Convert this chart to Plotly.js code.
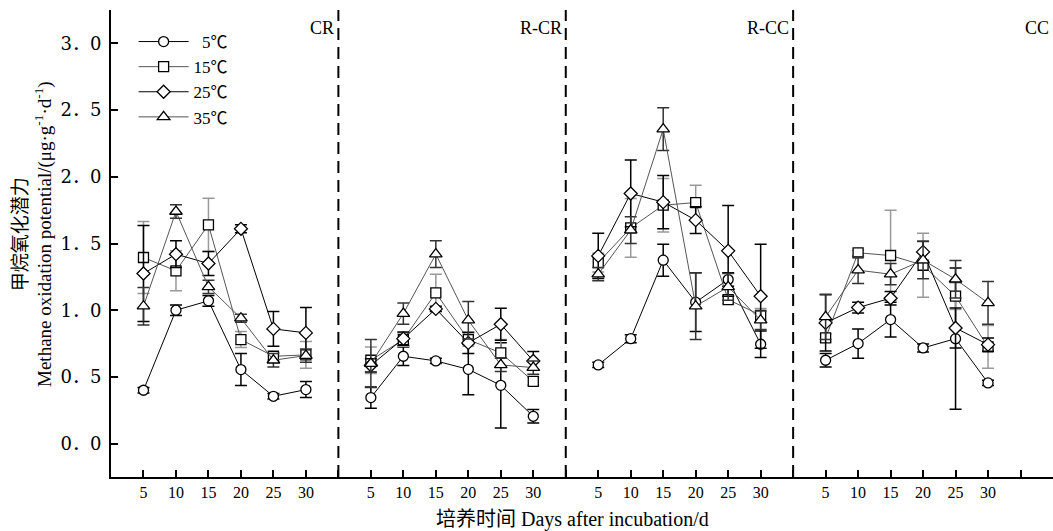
<!DOCTYPE html>
<html>
<head>
<meta charset="utf-8">
<script src="https://cdn.plot.ly/plotly-3.0.1.min.js"></script>
<style>html,body{margin:0;padding:0;background:#fff;}#chart{width:1053px;height:531px;}</style>
</head>
<body>
<div id="chart"></div>
<script>
// ---- data ----
const days = [5, 10, 15, 20, 25, 30];
const panels = ['CR', 'R-CR', 'R-CC', 'CC'];
const panelSpan = 35; // days per panel block on the shared axis
const temps = ['5℃', '15℃', '25℃', '35℃'];

// values: CR, R-CR, R-CC, CC (6 sampling days each)
const v5  = [0.40, 1.00, 1.07, 0.555, 0.355, 0.405,  0.345, 0.655, 0.62, 0.557, 0.437, 0.205,  0.59, 0.787, 1.375, 1.06, 1.23, 0.745,  0.625, 0.75, 0.93, 0.717, 0.787, 0.455];
const e5  = [0.02, 0.04, 0.04, 0.12, 0.02, 0.06,  0.08, 0.07, 0.02, 0.19, 0.32, 0.05,  0.02, 0.03, 0.12, 0.22, 0.05, 0.10,  0.05, 0.11, 0.13, 0.03, 0.53, 0.02];
const v15 = [1.395, 1.295, 1.64, 0.78, 0.655, 0.665,  0.625, 0.78, 1.13, 0.78, 0.68, 0.467,  1.357, 1.617, 1.787, 1.807, 1.08, 0.962,  0.792, 1.43, 1.41, 1.337, 1.105, 0.725];
const e15 = [0.27, 0.15, 0.20, 0.06, 0.03, 0.10,  0.10, 0.05, 0.14, 0.05, 0.10, 0.03,  0.07, 0.22, 0.20, 0.13, 0.03, 0.05,  0.03, 0.02, 0.34, 0.24, 0.10, 0.16];
const v25 = [1.275, 1.42, 1.35, 1.61, 0.86, 0.83,  0.587, 0.787, 1.01, 0.755, 0.895, 0.62,  1.407, 1.875, 1.81, 1.675, 1.445, 1.105,  0.905, 1.02, 1.09, 1.437, 0.867, 0.742];
const e25 = [0.36, 0.10, 0.09, 0.03, 0.13, 0.19,  0.05, 0.05, 0.02, 0.08, 0.12, 0.07,  0.17, 0.25, 0.20, 0.10, 0.34, 0.39,  0.21, 0.04, 0.05, 0.08, 0.15, 0.05];
const v35 = [1.03, 1.74, 1.175, 0.94, 0.625, 0.66,  0.60, 0.975, 1.42, 0.925, 0.59, 0.57,  1.27, 1.60, 2.357, 1.03, 1.175, 0.925,  0.95, 1.30, 1.27, 1.375, 1.232, 1.055];
const e35 = [0.14, 0.05, 0.05, 0.03, 0.05, 0.05,  0.18, 0.08, 0.10, 0.14, 0.05, 0.05,  0.05, 0.10, 0.16, 0.25, 0.10, 0.07,  0.17, 0.10, 0.08, 0.14, 0.14, 0.16];

const yTickVals = [0, 0.5, 1, 1.5, 2, 2.5, 3];
const yTickText = ['0．0', '0．5', '1．0', '1．5', '2．0', '2．5', '3．0'];

// ---- build ----
const serif = 'Liberation Serif, Times New Roman, Noto Sans CJK SC, serif';
const series = [
  {name: '\u20075℃', v: v5,  e: e5,  sym: 'circle',      lc: '#000', ec: '#000'},
  {name: '15℃',      v: v15, e: e15, sym: 'square',      lc: '#555', ec: '#999'},
  {name: '25℃',      v: v25, e: e25, sym: 'diamond',     lc: '#000', ec: '#000'},
  {name: '35℃',      v: v35, e: e35, sym: 'triangle-up', lc: '#555', ec: '#333'}
];

function expand(arr) {
  const out = [];
  panels.forEach((p, pi) => {
    days.forEach((d, di) => out.push(arr[pi * days.length + di]));
    out.push(null);
  });
  return out;
}
const xs = [];
panels.forEach((p, pi) => {
  days.forEach(d => xs.push(pi * panelSpan + d));
  xs.push(null);
});

const traces = series.map(s => ({
  type: 'scatter',
  mode: 'lines+markers',
  name: s.name,
  x: xs,
  y: expand(s.v),
  connectgaps: false,
  line: {color: s.lc, width: 1},
  marker: {symbol: s.sym, size: s.sym === 'triangle-up' ? 11 : 10, color: '#fff', line: {color: '#000', width: 1.3}},
  error_y: {type: 'data', array: expand(s.e), visible: true, color: s.ec, thickness: 1.5, width: 6}
}));

const totalSpan = panelSpan * panels.length + 5;
const xTickVals = [], xTickText = [];
for (let v = 5; v <= totalSpan; v += 5) {
  xTickVals.push(v);
  const r = v % panelSpan;
  xTickText.push(days.includes(r) && v < panelSpan * panels.length ? String(r) : '');
}

const shapes = [];
for (let i = 1; i < panels.length; i++) {
  shapes.push({type: 'line', xref: 'x', yref: 'paper', x0: i * panelSpan, x1: i * panelSpan, y0: 0, y1: 1,
    line: {color: '#000', width: 2, dash: '12px,7px'}});
}

const annotations = panels.map((p, i) => ({
  text: p, xref: 'x', yref: 'paper',
  x: i < panels.length - 1 ? (i + 1) * panelSpan : totalSpan,
  y: 0.962, xanchor: 'right', yanchor: 'middle', xshift: -2,
  showarrow: false, font: {family: serif, size: 18, color: '#000'}
}));
annotations.push({
  text: '培养时间 Days after incubation/d', xref: 'paper', yref: 'paper',
  x: 0.49, y: -0.092, xanchor: 'center', yanchor: 'middle', showarrow: false,
  font: {family: serif, size: 20, color: '#000'}
});
annotations.push({
  text: '甲烷氧化潜力<br>Methane oxidation potential/(μg·g<sup>-1</sup>·d<sup>-1</sup>)',
  xref: 'paper', yref: 'paper', x: -0.083, y: 0.52, xanchor: 'center', yanchor: 'middle',
  textangle: -90, showarrow: false, align: 'center',
  font: {family: serif, size: 19, color: '#000'}
});

const layout = {
  width: 1053, height: 531,
  margin: {l: 111, r: 0, t: 10, b: 54},
  paper_bgcolor: '#fff', plot_bgcolor: '#fff',
  showlegend: true,
  legend: {x: 0.024, y: 0.97, xanchor: 'left', yanchor: 'top', bgcolor: 'rgba(0,0,0,0)',
    font: {family: serif, size: 17, color: '#000'}, itemwidth: 50, tracegroupgap: 0},
  xaxis: {range: [0, totalSpan], showline: true, linecolor: '#000', linewidth: 2,
    ticks: 'inside', ticklen: 7, tickwidth: 2, tickcolor: '#000',
    tickmode: 'array', tickvals: xTickVals, ticktext: xTickText,
    tickfont: {family: serif, size: 16, color: '#000'},
    showgrid: false, zeroline: false, mirror: false},
  yaxis: {range: [-0.25, 3.25], showline: true, linecolor: '#000', linewidth: 2,
    ticks: 'inside', ticklen: 7, tickwidth: 2, tickcolor: '#000',
    tickmode: 'array', tickvals: yTickVals, ticktext: yTickText,
    tickfont: {family: 'DejaVu Serif, Noto Sans CJK SC, serif', size: 18, color: '#000'},
    ticklabelstandoff: 4,
    showgrid: false, zeroline: false},
  shapes: shapes,
  annotations: annotations
};

Plotly.newPlot('chart', traces, layout, {displayModeBar: false, staticPlot: true});
</script>
</body>
</html>
